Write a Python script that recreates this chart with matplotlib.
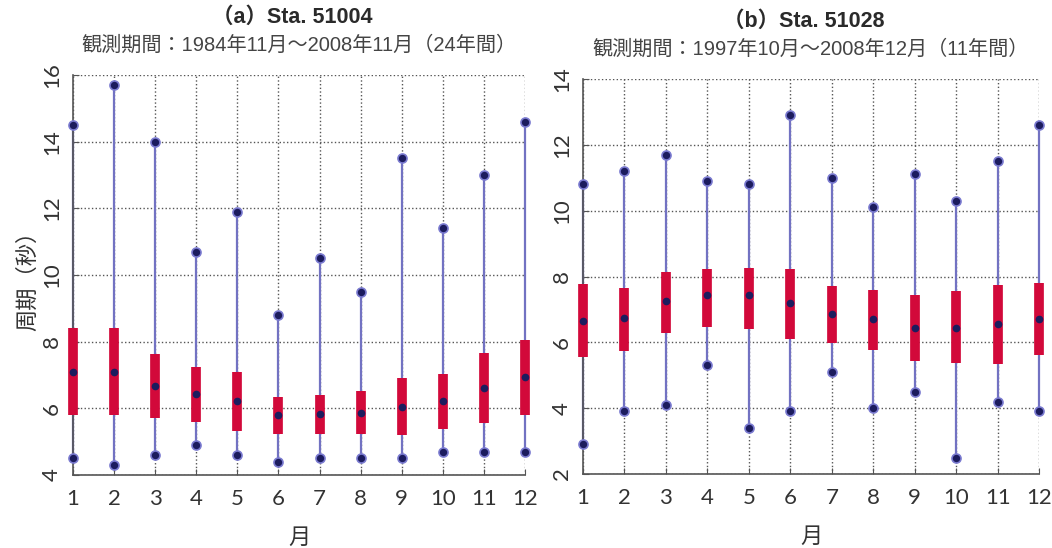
import matplotlib
matplotlib.use("Agg")
import matplotlib.pyplot as plt

plt.rcParams['font.family'] = ['Liberation Sans', 'Noto Sans CJK JP', 'DejaVu Sans']

months = list(range(1, 13))

# (a) Sta. 51004
a_min = [4.5, 4.3, 4.6, 4.9, 4.6, 4.4, 4.5, 4.5, 4.5, 4.7, 4.7, 4.7]
a_q1 = [5.8, 5.8, 5.72, 5.6, 5.32, 5.23, 5.23, 5.23, 5.2, 5.38, 5.55, 5.8]
a_med = [7.1, 7.08, 6.67, 6.42, 6.22, 5.79, 5.83, 5.87, 6.05, 6.22, 6.6, 6.95]
a_q3 = [8.42, 8.42, 7.63, 7.25, 7.08, 6.33, 6.4, 6.52, 6.92, 7.02, 7.67, 8.05]
a_max = [14.5, 15.7, 14.0, 10.7, 11.9, 8.8, 10.5, 9.5, 13.5, 11.4, 13.0, 14.6]

# (b) Sta. 51028
b_min = [2.9, 3.9, 4.1, 5.3, 3.4, 3.9, 5.1, 4.0, 4.5, 2.5, 4.2, 3.9]
b_q1 = [5.55, 5.74, 6.27, 6.47, 6.42, 6.09, 5.97, 5.78, 5.44, 5.38, 5.34, 5.61]
b_med = [6.65, 6.75, 7.25, 7.45, 7.45, 7.2, 6.85, 6.7, 6.45, 6.45, 6.55, 6.7]
b_q3 = [7.77, 7.66, 8.14, 8.24, 8.27, 8.22, 7.71, 7.6, 7.45, 7.55, 7.75, 7.8]
b_max = [10.8, 11.2, 11.7, 10.9, 10.8, 12.9, 11.0, 10.1, 11.1, 10.3, 11.5, 12.6]

panels = [
    ("（a）Sta. 51004", "観測期間：1984年11月～2008年11月（24年間）",
     a_min, a_q1, a_med, a_q3, a_max, (4, 16), [0.0694, 0.1332, 0.4297, 0.730]),
    ("（b）Sta. 51028", "観測期間：1997年10月～2008年12月（11年間）",
     b_min, b_q1, b_med, b_q3, b_max, (2, 14), [0.5542, 0.135, 0.4335, 0.7208]),
]

whisker_color = '#7272c2'
box_color = '#d2093a'
dot_color = '#1c1c5e'
tick_font = ['Lato', 'DejaVu Sans']

fig = plt.figure(figsize=(10.52, 5.48), dpi=100)

for i, (title, sub, vmin, q1, med, q3, vmax, ylim, rect) in enumerate(panels):
    ax = fig.add_axes(rect)
    # whiskers, boxes, extremes and medians
    ax.vlines(months, vmin, vmax, color=whisker_color, linewidth=1.6, zorder=2, clip_on=False)
    ax.vlines(months, q1, q3, color=box_color, linewidth=7, zorder=3, clip_on=False)
    ax.plot(months, vmin, 'o', ms=6.5, mfc=dot_color, mec='#7a7ad0', mew=1.2, zorder=4, clip_on=False)
    ax.plot(months, vmax, 'o', ms=6.5, mfc=dot_color, mec='#7a7ad0', mew=1.2, zorder=4, clip_on=False)
    ax.plot(months, med, 'o', ms=4.5, mfc=dot_color, mec=dot_color, zorder=5, clip_on=False)

    ax.set_xlim(1, 12)
    ax.set_ylim(*ylim)
    ax.set_xticks(months)
    ax.set_yticks(range(ylim[0], ylim[1] + 1, 2))
    ax.grid(True, linestyle=':', color='#555555', linewidth=1.0, zorder=0)
    ax.set_axisbelow(True)

    for side in ('top', 'right'):
        ax.spines[side].set_visible(False)
    for side in ('left', 'bottom'):
        ax.spines[side].set_color('#555555')
        ax.spines[side].set_linewidth(1.2)

    ax.tick_params(axis='both', direction='in', length=4, color='#555555',
                   labelsize=16, labelcolor='#333333')
    ax.tick_params(axis='x', pad=10)
    ax.tick_params(axis='y', labelrotation=90, pad=8)
    for lab in ax.get_xticklabels() + ax.get_yticklabels():
        lab.set_family(tick_font)
    for lab in ax.get_yticklabels():
        lab.set_verticalalignment('center')

    ax.set_xlabel("月", fontsize=16, color='#333333', labelpad=14)
    if i == 0:
        ax.set_ylabel("周期（秒）", fontsize=16, color='#333333', labelpad=2)

    ax.text(0.485, 1.145, title, transform=ax.transAxes, ha='center', va='center',
            fontsize=15.5, fontweight='bold', color='#2a2a2a')
    ax.text(0.5, 1.075, sub, transform=ax.transAxes, ha='center', va='center',
            fontsize=14.5, color='#444444')

fig.savefig("out.png", dpi=100)
